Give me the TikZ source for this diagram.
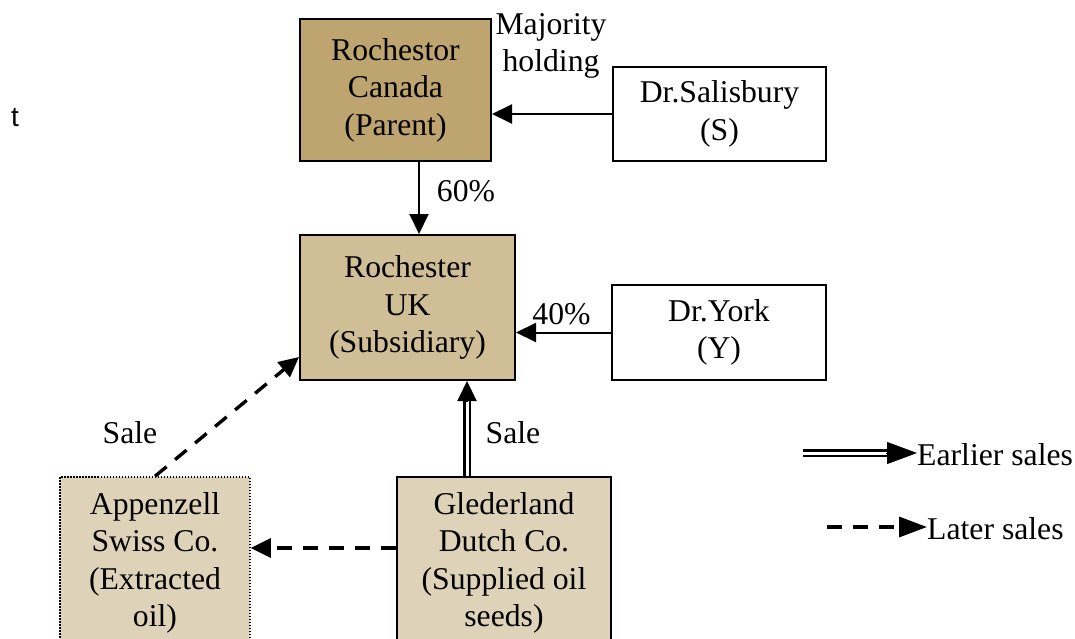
\documentclass[tikz,border=0pt]{standalone}
\usepackage{fontspec}
\setmainfont{Liberation Serif}
\newfontfamily\arialfont{Liberation Sans}
\usetikzlibrary{arrows.meta,calc}
\definecolor{parentfill}{RGB}{190,165,111}
\definecolor{subfill}{RGB}{207,190,150}
\definecolor{lowfill}{RGB}{222,211,185}
\begin{document}
\begin{tikzpicture}[x=1pt,y=-1pt,
  lbl/.style={font=\fontsize{31.7}{37.5}\selectfont, inner sep=0pt, align=center},
  box/.style={lbl, draw, line width=2pt, rectangle},
  link/.style={line width=2pt, -{Triangle[length=20pt,width=19pt]}},
  later/.style={line width=3.4pt, dash pattern=on 15pt off 11pt, -{Triangle[length=20pt,width=19pt]}},
  earlier/.style={line width=2.2pt, double, double distance=3pt},
]
\useasboundingbox (0,0) rectangle (1075,639);
\clip (0,0) rectangle (1075,639);

% companies and shareholders
\node[box, fill=parentfill, minimum width=191pt, minimum height=142pt] (canada) at (395.5,90) {Rochestor\\Canada\\(Parent)};
\node[box, minimum width=213pt, minimum height=94pt] (sal) at (719.5,114) {Dr.Salisbury\\(S)};
\node[box, fill=subfill, minimum width=215pt, minimum height=145pt] (uk) at (407.5,307.5) {Rochester\\UK\\(Subsidiary)};
\node[box, minimum width=214pt, minimum height=95pt] (york) at (719,332.5) {Dr.York\\(Y)};
\node[box, fill=lowfill, line width=1.5pt, dash pattern=on 1.5pt off 1.5pt, minimum width=190pt, minimum height=172pt] (app) at (155,563) {Appenzell\\Swiss Co.\\(Extracted\\oil)};
\node[box, fill=lowfill, minimum width=214pt, minimum height=172pt] (gel) at (504,563) {Glederland\\Dutch Co.\\(Supplied oil\\seeds)};

% free labels
\node[lbl] (maj) at (551,46) {Majority\\holding};
\node[lbl] (p60) at (466,191) {60\%};
\node[lbl] (p40) at (561.5,314) {40\%};
\node[lbl] (sale1) at (130,433) {Sale};
\node[lbl] (sale2) at (513,433) {Sale};
\node[font=\arialfont\fontsize{28}{32}\selectfont, inner sep=0pt] (t) at (15,118) {t};

% shareholdings
\coordinate (ax) at (419,0);
\draw[link] (canada.south -| ax) -- (uk.north -| ax);
\draw[link] (sal.west) -- (sal.west -| canada.east);
\draw[link] (york.west) -- (york.west -| uk.east);

% sales
\coordinate (dx) at (467,0);
\draw[earlier, shorten >=20pt] (gel.north -| dx) -- (uk.south -| dx);
\draw[link] ($(uk.south -| dx)+(0,21)$) -- (uk.south -| dx);
\coordinate (ly) at (0,548);
\draw[later] (gel.west |- ly) -- (app.east |- ly);
\draw[later] (app.north) -- ($(uk.south west)+(0,-24)$);

% legend
\node[lbl, anchor=west] (etxt) at (917,455) {Earlier sales};
\node[lbl, anchor=west] (ltxt) at (927,529) {Later sales};
\coordinate (es) at (803,453);
\coordinate (ls) at (827,527);
\draw[earlier, shorten >=30pt] (es) -- (es -| etxt.west);
\draw[line width=1pt, -{Triangle[length=30pt,width=22pt]}] ($(es -| etxt.west)+(-31,0)$) -- (es -| etxt.west);
\draw[line width=3.4pt, dash pattern=on 15pt off 11pt, -{Triangle[length=28pt,width=20pt]}] (ls) -- (ls -| ltxt.west);
\end{tikzpicture}
\end{document}
